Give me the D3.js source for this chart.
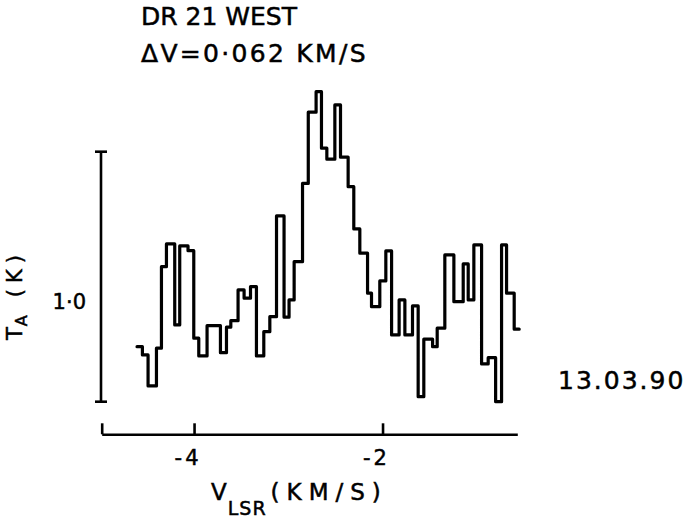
<!DOCTYPE html>
<html>
<head>
<meta charset="utf-8">
<script src="https://cdn.jsdelivr.net/npm/d3@7"></script>
<style>
  body { margin: 0; background: #fff; }
  svg { display: block; font-family: "DejaVu Sans", sans-serif; }
  svg text { fill: #000; stroke: #000; stroke-width: 0.5px; }
</style>
</head>
<body>
<div id="chart"></div>
<script>
// DR 21 West spectrum, step plot.

// channel edges (km/s) and antenna temperature per channel (K)
const edges = [-4.605, -4.548, -4.488, -4.399, -4.346, -4.293, -4.205, -4.152, -4.064, -4.003,
  -3.950, -3.862, -3.720, -3.656, -3.610, -3.533, -3.469, -3.401, -3.338, -3.260,
  -3.196, -3.125, -3.045, -2.992, -2.938, -2.849, -2.788, -2.705, -2.648, -2.591,
  -2.506, -2.446, -2.365, -2.305, -2.241, -2.159, -2.117, -2.029, -1.965, -1.904,
  -1.824, -1.763, -1.682, -1.622, -1.562, -1.469, -1.420, -1.339, -1.243, -1.144,
  -1.091, -1.031, -0.949, -0.879, -0.800, -0.737, -0.684, -0.603, -0.550];
const temps = [0.820, 0.787, 0.663, 0.814, 1.140, 1.231, 0.907, 1.223, 1.204, 0.854,
  0.783, 0.904, 0.796, 0.898, 0.924, 1.047, 1.014, 1.060, 0.783, 0.880,
  0.940, 1.343, 0.938, 1.007, 1.160, 1.473, 1.758, 1.840, 1.614, 1.570,
  1.787, 1.578, 1.460, 1.291, 1.194, 1.034, 0.980, 1.083, 1.203, 0.867,
  1.007, 0.867, 0.983, 0.620, 0.850, 0.820, 0.894, 1.187, 1.000, 1.151,
  1.007, 1.227, 0.751, 0.776, 0.600, 1.227, 1.034, 0.890];

const xDomain = [-4.98, -0.57];
const xTicks = [-4, -2];
const xTickLabels = ['-4', '-2'];
const yDomain = [0.6, 1.6];   // length of the scale bar
const yTicks = [1.0];
const yTickLabels = ['1·0'];

const W = 685, H = 525;
const svg = d3.select('#chart').append('svg').attr('width', W).attr('height', H);

const x = d3.scaleLinear().domain(xDomain).range([101.7, 517.3]);
const y = d3.scaleLinear().domain(yDomain).range([401.7, 151.7]);

// ── X axis (ticks point up) ──
const xAxisY = 434.3;
const gx = svg.append('g').attr('transform', `translate(0,${xAxisY})`)
  .call(d3.axisBottom(x).tickValues([xDomain[0], ...xTicks]).tickSize(-11).tickSizeOuter(0).tickFormat(''));
gx.select('.domain').attr('stroke', '#000').attr('stroke-width', 2.6);
gx.selectAll('.tick line').attr('stroke', '#000').attr('stroke-width', 2.6);
gx.selectAll('.tick text').remove();
xTicks.forEach((v, i) => {
  svg.append('text').attr('x', x(v) - 6).attr('y', xAxisY + 31)
    .attr('text-anchor', 'middle').attr('letter-spacing', 3).style('font-size', '21px')
    .text(xTickLabels[i]);
});

// ── Y scale bar ──
const barX = 101;
svg.append('line').attr('x1', barX).attr('x2', barX)
  .attr('y1', y(yDomain[0])).attr('y2', y(yDomain[1]))
  .attr('stroke', '#000').attr('stroke-width', 2.6);
yDomain.forEach(v => {
  svg.append('line').attr('x1', barX - 6).attr('x2', barX + 6)
    .attr('y1', y(v)).attr('y2', y(v)).attr('stroke', '#000').attr('stroke-width', 2.6);
});
yTicks.forEach((v, i) => {
  svg.append('text').attr('x', barX - 15).attr('y', y(v) + 7.5)
    .attr('text-anchor', 'end').style('font-size', '21px')
    .text(yTickLabels[i]);
});

// ── Spectrum ──
const pts = temps.map((t, i) => [edges[i], t]);
pts.push([edges[edges.length - 1], temps[temps.length - 1]]);
const line = d3.line().x(d => x(d[0])).y(d => y(d[1])).curve(d3.curveStepAfter);
svg.append('path').datum(pts)
  .attr('fill', 'none').attr('stroke', '#000').attr('stroke-width', 3.2)
  .attr('stroke-linejoin', 'round').attr('stroke-linecap', 'round')
  .attr('d', line);

// ── Labels ──
svg.append('text').attr('x', 141).attr('y', 25).style('font-size', '25px').text('DR 21 WEST');
svg.append('text').attr('x', 141).attr('y', 61.7).style('font-size', '25px').attr('letter-spacing', 2.3)
  .text('ΔV=0·062 KM/S');

svg.append('text').attr('x', 558).attr('y', 389).style('font-size', '25px').attr('letter-spacing', 2)
  .text('13.03.90');

const xl = svg.append('text').attr('x', 211).attr('y', 500).style('font-size', '23px').attr('letter-spacing', 4);
xl.append('tspan').text('V');
xl.append('tspan').style('font-size', '19px').attr('dy', 15).attr('dx', -3).attr('letter-spacing', 1).text('LSR');
xl.append('tspan').attr('dy', -15).attr('dx', 4).attr('letter-spacing', 7).text('(KM/S)');

const yl = svg.append('text').attr('transform', 'translate(22,340) rotate(-90)').style('font-size', '21px')
  .attr('letter-spacing', 3);
yl.append('tspan').text('T');
yl.append('tspan').style('font-size', '16px').attr('dy', 5).attr('dx', -2).text('A');
yl.append('tspan').attr('dy', -5).attr('dx', 15).attr('letter-spacing', 6).text('(K)');
</script>
</body>
</html>
